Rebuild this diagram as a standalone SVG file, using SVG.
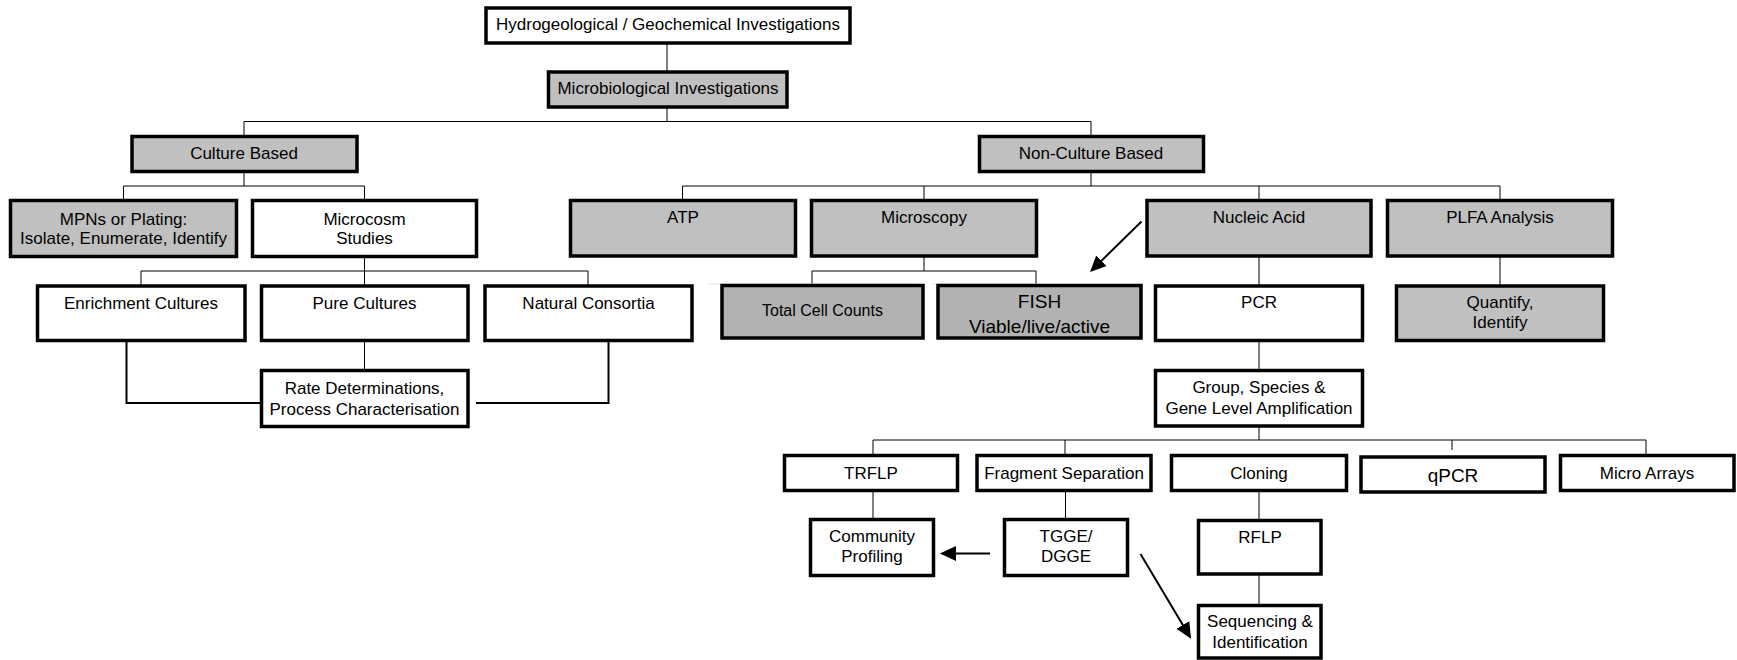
<svg xmlns="http://www.w3.org/2000/svg" width="1737" height="660" viewBox="0 0 1737 660">
<style>
.box{stroke:#000;stroke-width:3.5}
.w{fill:#fff}
.g{fill:#c0c0c0}
.d{fill:#b2b2b2}
text{font-family:"Liberation Sans",Arial,sans-serif;font-size:17px;fill:#000;text-anchor:middle}
.big{font-size:19px}
.c{fill:none;stroke:#000;stroke-width:1}
.t{fill:none;stroke:#000;stroke-width:2}
.a{fill:none;stroke:#000;stroke-width:2}
.f{fill:none;stroke:#e2e2e2;stroke-width:1}
</style>
<defs>
<marker id="ah" markerUnits="userSpaceOnUse" markerWidth="16" markerHeight="16" viewBox="0 0 16 16" refX="14" refY="8" orient="auto">
<path d="M0,0.5 L16,8 L0,15.5 z" fill="#000"/>
</marker>
</defs>
<rect width="1737" height="660" fill="#fff"/>
<g id="connectors">
<path class="c" d="M667,43V71M667,107V121.5M244,121.5H1091M244,121.5V136M1091,121.5V136"/>
<path class="c" d="M244,172V186M123.5,186H364.5M123.5,186V200M364.5,186V200"/>
<path class="c" d="M1091,172V186M682.5,186H1500M682.5,186V200M924,186V200M1259,186V200M1500,186V200"/>
<path class="c" d="M364.5,257V271M141,271H588M141,271V286M364.5,271V286M588,271V286M364.5,341V370"/>
<path class="t" d="M126.5,339V403H261M608.5,339V403H476"/>
<path class="c" d="M924,256V271M812,271H1036M812,271V285M1036,271V285"/>
<path class="f" d="M708,284H913M932,284H1037"/>
<path class="c" d="M1259,256V286M1500,256V286M1259,341V370M1259,426V440M873,440H1646M873,440V455M1065,440V455M1646,440V455M1452,440V450"/>
<path class="c" d="M873,491V519M1065.5,491V519M1259,491V520M1259,574V605"/>
<path class="a" marker-end="url(#ah)" d="M1141.5,221.5L1091.5,270.5"/>
<path class="a" marker-end="url(#ah)" d="M990,553.5H942"/>
<path class="a" stroke-width="1.6" marker-end="url(#ah)" d="M1140.5,554L1190,637"/>
</g>
<g id="n-hydro"><rect class="box w" x="486" y="8" width="364" height="35"/><text x="668" y="30">Hydrogeological / Geochemical Investigations</text></g>
<g id="n-micro"><rect class="box g" x="548.5" y="72" width="238.5" height="35"/><text x="668" y="94">Microbiological Investigations</text></g>
<g id="n-culture"><rect class="box g" x="132" y="136.5" width="225" height="35"/><text x="244" y="159">Culture Based</text></g>
<g id="n-nonculture"><rect class="box g" x="979.5" y="136.5" width="224" height="35"/><text x="1091" y="159">Non-Culture Based</text></g>
<g id="n-mpn"><rect class="box g" x="10.5" y="200.5" width="226" height="56"/><text x="123.5" y="225">MPNs or Plating:</text><text x="123.5" y="244">Isolate, Enumerate, Identify</text></g>
<g id="n-microcosm"><rect class="box w" x="252.5" y="200.5" width="224" height="56"/><text x="364.5" y="225">Microcosm</text><text x="364.5" y="244">Studies</text></g>
<g id="n-atp"><rect class="box g" x="570.5" y="200.5" width="225" height="55.5"/><text x="683" y="223">ATP</text></g>
<g id="n-microscopy"><rect class="box g" x="811.5" y="200.5" width="225" height="55.5"/><text x="924" y="223">Microscopy</text></g>
<g id="n-nucleic"><rect class="box g" x="1147" y="200.5" width="224" height="55.5"/><text x="1259" y="223">Nucleic Acid</text></g>
<g id="n-plfa"><rect class="box g" x="1387.5" y="200.5" width="225" height="55.5"/><text x="1500" y="223">PLFA Analysis</text></g>
<g id="n-enrich"><rect class="box w" x="37.5" y="286" width="207.5" height="54.5"/><text x="141" y="309">Enrichment Cultures</text></g>
<g id="n-pure"><rect class="box w" x="261.5" y="286" width="206.5" height="54.5"/><text x="364.5" y="309">Pure Cultures</text></g>
<g id="n-natural"><rect class="box w" x="485" y="286" width="207" height="54.5"/><text x="588.5" y="309">Natural Consortia</text></g>
<g id="n-rate"><rect class="box w" x="261.5" y="370.5" width="206.5" height="56"/><text x="364.5" y="394">Rate Determinations,</text><text x="364.5" y="415">Process Characterisation</text></g>
<g id="n-total"><rect class="box d" x="722" y="285.5" width="201" height="52.5"/><text x="822.5" y="316" style="font-size:16px">Total Cell Counts</text></g>
<g id="n-fish"><rect class="box d" x="938" y="285.5" width="203" height="52.5"/><text class="big" x="1039.5" y="308">FISH</text><text class="big" x="1039.5" y="333">Viable/live/active</text></g>
<g id="n-pcr"><rect class="box w" x="1155.5" y="286" width="207" height="54.5"/><text x="1259" y="308">PCR</text></g>
<g id="n-quant"><rect class="box g" x="1396.5" y="286" width="207" height="54.5"/><text x="1500" y="308">Quantify,</text><text x="1500" y="328">Identify</text></g>
<g id="n-group"><rect class="box w" x="1155.5" y="370.5" width="207" height="55.5"/><text x="1259" y="393">Group, Species &amp;</text><text x="1259" y="414">Gene Level Amplification</text></g>
<g id="n-trflp"><rect class="box w" x="784.5" y="455.5" width="173" height="35"/><text x="871" y="479">TRFLP</text></g>
<g id="n-frag"><rect class="box w" x="977" y="455.5" width="174" height="35"/><text x="1064" y="479">Fragment Separation</text></g>
<g id="n-cloning"><rect class="box w" x="1171.5" y="455.5" width="175" height="35"/><text x="1259" y="479">Cloning</text></g>
<g id="n-qpcr"><rect class="box w" x="1361" y="457" width="184" height="35"/><text class="big" x="1453" y="482">qPCR</text></g>
<g id="n-micro-arrays"><rect class="box w" x="1560.5" y="455.5" width="173.5" height="35"/><text x="1647" y="479">Micro Arrays</text></g>
<g id="n-community"><rect class="box w" x="810.5" y="519.5" width="123" height="56"/><text x="872" y="542">Community</text><text x="872" y="562">Profiling</text></g>
<g id="n-tgge"><rect class="box w" x="1004.5" y="519.5" width="123" height="56"/><text x="1066" y="542">TGGE/</text><text x="1066" y="562">DGGE</text></g>
<g id="n-rflp"><rect class="box w" x="1198.5" y="520.5" width="122.5" height="53.5"/><text x="1260" y="543">RFLP</text></g>
<g id="n-seq"><rect class="box w" x="1198.5" y="605.5" width="122.5" height="52.5"/><text x="1260" y="627">Sequencing &amp;</text><text x="1260" y="648">Identification</text></g>
</svg>
